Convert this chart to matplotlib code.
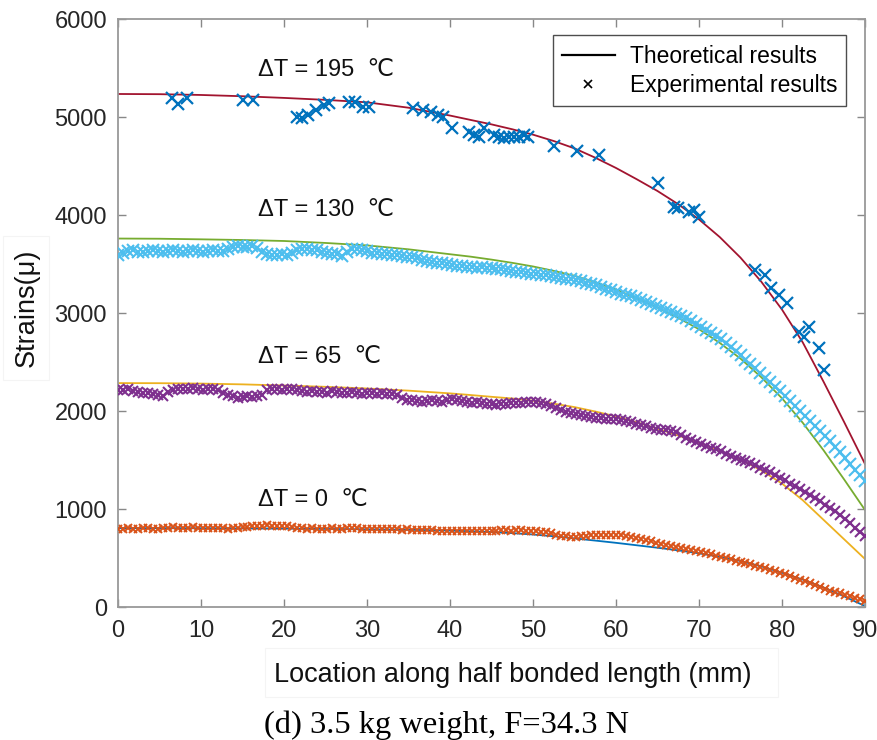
import numpy as np
import matplotlib
matplotlib.use("Agg")
import matplotlib.pyplot as plt
from matplotlib.lines import Line2D
from matplotlib.patches import Rectangle

plt.rcParams["font.family"] = ["Liberation Sans", "DejaVu Sans"]

# ---- theoretical curves (location in mm, strain in micro-strain) ----
x_theory = [0, 5, 10, 15, 20, 25, 30, 35, 40, 42.5, 45, 47.5, 50, 52.5, 55,
            57.5, 60, 62.5, 65, 67.5, 70, 72.5, 75, 77.5, 80, 82.5, 85, 87.5, 90]
theory_195 = [5235, 5233, 5225, 5212, 5195, 5175, 5150, 5095, 5015, 4970, 4925,
               4875, 4820, 4755, 4680, 4585, 4480, 4365, 4245, 4110, 3955,
               3775, 3565, 3320, 3035, 2700, 2300, 1885, 1460]
theory_130 = [3760, 3758, 3752, 3745, 3735, 3715, 3690, 3650, 3600, 3575, 3545,
              3512, 3475, 3430, 3380, 3315, 3240, 3150, 3055, 2950, 2835, 2695,
              2535, 2345, 2130, 1880, 1600, 1300, 990]
theory_65 = [2285, 2284, 2280, 2272, 2260, 2247, 2230, 2208, 2180, 2163, 2145,
             2128, 2105, 2075, 2040, 1995, 1945, 1885, 1820, 1750, 1675, 1595,
             1505, 1395, 1260, 1090, 890, 690, 490]
theory_0 = [805, 805, 804, 802, 800, 797, 793, 788, 780, 773, 765, 754, 740, 722,
            700, 678, 655, 630, 605, 578, 548, 512, 470, 415, 350, 280, 200, 108, 10]

# ---- experimental readings, Delta T = 195 C (sparse gauges) ----
exp195_x = [6.5, 7.2, 8.3, 15.1, 16.3, 21.6, 22.2, 22.9, 23.8, 24.8, 25.4, 27.8,
            28.6, 29.5, 30.2, 35.6, 36.7, 37.7, 38.5, 39.1, 40.3, 42.3, 42.9,
            43.5, 44.1, 45.3, 45.9, 46.5, 47.1, 47.7, 48.3, 48.9, 49.4, 52.5,
            55.3, 57.9, 65.1, 67.0, 67.5, 68.8, 69.4, 70.0, 76.7, 77.9, 78.7,
            79.6, 80.6, 82.0, 82.6, 83.3, 84.5, 85.1]
exp195_y = [5192, 5130, 5192, 5171, 5171, 4998, 4988, 5018, 5069, 5120, 5141,
            5151, 5151, 5100, 5100, 5090, 5069, 5049, 5018, 4998, 4886, 4845,
            4814, 4794, 4886, 4814, 4794, 4784, 4794, 4794, 4794, 4814, 4794,
            4702, 4651, 4610, 4325, 4080, 4070, 4029, 4049, 3978, 3437, 3386,
            3254, 3182, 3101, 2805, 2754, 2856, 2642, 2417]

# ---- distributed sensing readings, every 0.6 mm from 0 to 90 mm ----
x_dense = np.linspace(0, 90, 151)

exp130 = [3590, 3615, 3630, 3640, 3625, 3620, 3635, 3640, 3630, 3625,
          3635, 3640, 3630, 3625, 3635, 3640, 3630, 3625, 3630, 3640,
          3635, 3630, 3650, 3670, 3680, 3675, 3670, 3680, 3660, 3620,
          3600, 3595, 3590, 3600, 3590, 3610, 3640, 3655, 3650, 3645,
          3640, 3620, 3610, 3605, 3600, 3580, 3620, 3650, 3655, 3645,
          3630, 3615, 3610, 3600, 3605, 3595, 3590, 3580, 3575, 3570,
          3560, 3545, 3530, 3520, 3515, 3510, 3500, 3490, 3480, 3475,
          3470, 3465, 3460, 3470, 3460, 3455, 3450, 3445, 3440, 3430,
          3420, 3415, 3405, 3400, 3395, 3390, 3385, 3375, 3370, 3360,
          3350, 3345, 3340, 3325, 3310, 3295, 3285, 3270, 3250, 3235,
          3210, 3195, 3180, 3170, 3150, 3130, 3115, 3095, 3070, 3055,
          3030, 3015, 2990, 2965, 2945, 2915, 2890, 2860, 2830, 2800,
          2765, 2735, 2695, 2655, 2610, 2570, 2525, 2480, 2435, 2390,
          2340, 2295, 2250, 2200, 2155, 2100, 2050, 2000, 1950, 1895,
          1845, 1795, 1745, 1690, 1635, 1580, 1520, 1460, 1400, 1345, 1290]

exp65 = [2215, 2210, 2220, 2205, 2195, 2185, 2180, 2175, 2160, 2150,
         2190, 2215, 2220, 2225, 2220, 2230, 2225, 2215, 2220, 2225,
         2210, 2180, 2165, 2150, 2130, 2140, 2150, 2145, 2155, 2165,
         2210, 2220, 2225, 2215, 2220, 2225, 2210, 2205, 2195, 2200,
         2190, 2195, 2185, 2200, 2190, 2180, 2185, 2190, 2180, 2175,
         2185, 2180, 2175, 2180, 2170, 2175, 2160, 2130, 2115, 2110,
         2100, 2095, 2105, 2110, 2100, 2095, 2110, 2120, 2115, 2105,
         2095, 2085, 2090, 2080, 2075, 2070, 2060, 2070, 2075, 2080,
         2085, 2080, 2090, 2095, 2090, 2085, 2070, 2050, 2030, 2010,
         1995, 1980, 1965, 1955, 1945, 1935, 1925, 1925, 1920, 1915,
         1915, 1910, 1900, 1885, 1870, 1855, 1845, 1830, 1820, 1810,
         1805, 1795, 1785, 1760, 1725, 1700, 1680, 1660, 1645, 1625,
         1610, 1590, 1565, 1545, 1525, 1505, 1485, 1465, 1445, 1420,
         1400, 1375, 1350, 1320, 1295, 1260, 1230, 1200, 1170, 1140,
         1110, 1080, 1045, 1010, 975, 935, 895, 855, 810, 765, 720]

exp0 = [795, 800, 805, 800, 798, 802, 805, 800, 798, 805,
        810, 812, 808, 805, 810, 812, 808, 805, 806, 810,
        808, 805, 800, 802, 806, 812, 818, 822, 828, 830,
        832, 830, 828, 830, 825, 815, 808, 805, 800, 802,
        798, 795, 800, 802, 798, 800, 806, 808, 802, 800,
        798, 795, 798, 800, 796, 792, 795, 790, 792, 788,
        786, 788, 784, 782, 780, 778, 780, 776, 774, 776,
        775, 772, 774, 776, 778, 780, 778, 782, 784, 780,
        782, 784, 780, 778, 775, 770, 762, 755, 740, 728,
        720, 718, 716, 722, 728, 730, 734, 736, 738, 740,
        738, 730, 720, 710, 700, 690, 680, 670, 658, 645,
        635, 625, 615, 605, 595, 583, 572, 560, 548, 537,
        525, 512, 500, 485, 472, 460, 448, 436, 422, 410,
        395, 380, 365, 348, 332, 315, 298, 280, 262, 245,
        225, 205, 185, 168, 152, 138, 122, 110, 95, 80, 65]

labels = ["\u0394T = 195  \u2103", "\u0394T = 130  \u2103",
          "\u0394T = 65  \u2103", "\u0394T = 0  \u2103"]
label_y = [5480, 4050, 2550, 1090]

x_ticks = list(range(0, 91, 10))
y_ticks = list(range(0, 6001, 1000))

# MATLAB-like palette
c_red, c_green, c_yellow, c_blue = "#A2142F", "#77AC30", "#EDB120", "#0072BD"
c_dblue, c_lblue, c_purple, c_orange = "#0072BD", "#4DBEEE", "#7E2F8E", "#D95319"

fig = plt.figure(figsize=(8.78, 7.4), dpi=100)
ax = fig.add_axes([0.1344, 0.1797, 0.8508, 0.7946])

lw = 1.3
ax.plot(x_theory, theory_0, color=c_blue, lw=lw, zorder=2)
ax.plot(x_theory, theory_65, color=c_yellow, lw=lw, zorder=2)
ax.plot(x_theory, theory_130, color=c_green, lw=lw, zorder=2)
ax.plot(x_theory, theory_195, color=c_red, lw=lw, zorder=2)

ax.plot(x_dense, exp0, "x", color=c_orange, ms=6.2, mew=1.4, zorder=3)
ax.plot(x_dense, exp65, "x", color=c_purple, ms=7.8, mew=1.5, zorder=3)
ax.plot(x_dense, exp130, "x", color=c_lblue, ms=8.4, mew=1.5, zorder=3)
ax.plot(exp195_x, exp195_y, "x", color=c_dblue, ms=9, mew=1.6, zorder=3)

for text, yv in zip(labels, label_y):
    ax.text(16.9, yv, text, fontsize=17, color="#111111", va="center", ha="left")

ax.set_xlim(0, 90)
ax.set_ylim(0, 6000)
ax.set_xticks(x_ticks)
ax.set_yticks(y_ticks)
ax.tick_params(direction="in", top=True, right=True, length=6, width=1,
               color="#888888", labelcolor="#262626", labelsize=17)
ax.tick_params(axis="x", labeltop=False, pad=9)
ax.tick_params(axis="y", labelright=False, pad=8)
for s in ax.spines.values():
    s.set_color("#999999")
    s.set_linewidth(1.3)

handles = [Line2D([], [], color="black", lw=1.6),
           Line2D([], [], color="black", marker="x", ls="none", ms=6, mew=1.2)]
leg = ax.legend(handles, ["Theoretical results", "Experimental results"],
                loc="upper right", bbox_to_anchor=(0.975, 0.972), fontsize=16.5,
                frameon=True, fancybox=False, handlelength=2.3, handletextpad=0.65,
                labelspacing=0.28, borderpad=0.4, borderaxespad=0)
leg.get_frame().set_edgecolor("#222222")
leg.get_frame().set_linewidth(1.0)

# axis titles sit in their own faint boxes
fig.text(513 / 878, 1 - 682 / 740, "Location along half bonded length (mm)",
         fontsize=19.5, color="#111111", ha="center", va="baseline")
fig.text(27 / 878, 1 - 308 / 740, "Strains(\u03bc)", fontsize=19.5, color="#111111",
         ha="center", va="center", rotation=90)
fig.patches.append(Rectangle((265 / 878, 1 - 697 / 740), 513 / 878, 49 / 740,
                             transform=fig.transFigure, fill=False,
                             edgecolor="#f4f4f4", lw=0.8))
fig.patches.append(Rectangle((3 / 878, 1 - 380 / 740), 46 / 878, 144 / 740,
                             transform=fig.transFigure, fill=False,
                             edgecolor="#f4f4f4", lw=0.8))

fig.text(447 / 878, 1 - 733 / 740, "(d) 3.5 kg weight, F=34.3 N",
         fontsize=23.4, family="Liberation Serif", color="black",
         ha="center", va="baseline")

fig.savefig("out.png", dpi=100)
